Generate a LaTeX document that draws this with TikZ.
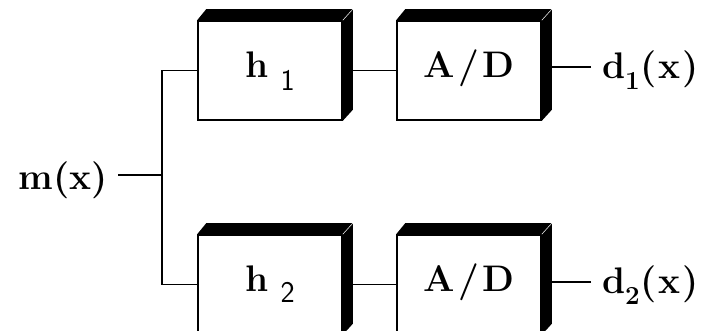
\documentclass[tikz,border=0pt]{standalone}
\usetikzlibrary{calc}
\newcommand\extrudebox[1]{%
  \fill (#1.north west) -- ++(9,-11) -- ($(#1.north east)+(10,-11)$) -- ($(#1.south east)+(10,-11)$) -- (#1.south east) -- (#1.north east) -- cycle;
  \draw[white, line width=0.5pt] (#1.north east) -- ++(10,-11);}
\newcommand\hsub[2]{\raisebox{#1}{\sffamily\mdseries\fontsize{30}{30}\selectfont #2}}
\newcommand\dsub[1]{\raisebox{-11pt}{\fontsize{26}{26}\selectfont #1}}
\newcommand\adtext{A\kern3pt/\kern3pt D}
\begin{document}
\begin{tikzpicture}[x=1pt,y=-1pt,
  blk/.style={draw, line width=1.6pt, fill=white, minimum width=144pt, minimum height=99pt,
    inner sep=0pt, font=\fontsize{37}{40}\selectfont\bfseries, text height=22pt, text depth=7pt},
  wire/.style={line width=1.6pt},
  sig/.style={font=\fontsize{37}{40}\selectfont\bfseries, text height=23pt, text depth=0pt,
    inner xsep=5pt, outer xsep=6pt, inner ysep=0pt}]
\clip (0,0) rectangle (710,331);
% blocks
\node[blk] (h1) at (270,70.5) {h\,\,\hsub{-13pt}{1}};
\node[blk] (ad1) at (469,70.5) {\adtext};
\node[blk] (h2) at (270,284.5) {h\,\,\hsub{-10pt}{2}};
\node[blk] (ad2) at (469,284.5) {\adtext};
% signals
\node[sig, anchor=east, text height=30pt, inner xsep=2pt, outer xsep=8pt] (m) at (118,175) {m(x)};
\node[sig, anchor=west] (d1) at (591,67) {d\dsub{1}\kern1pt(\kern2pt x\kern2pt)};
\node[sig, anchor=west] (d2) at (591,282) {d\dsub{2}\kern1pt(\kern2pt x\kern2pt)};
\coordinate (j) at (162,175);
% wires
\draw[wire] (m.east) -- (j);
\draw[wire] (h1.west) -| (j) |- (h2.west);
\draw[wire] (h1.east) -- (ad1.west);
\draw[wire] (h2.east) -- (ad2.west);
\draw[wire] (d1.west) -- (d1.west -| ad1.east);
\draw[wire] (d2.west) -- (d2.west -| ad2.east);
% 3-D faces
\extrudebox{h1}
\extrudebox{ad1}
\extrudebox{h2}
\extrudebox{ad2}
\end{tikzpicture}
\end{document}
